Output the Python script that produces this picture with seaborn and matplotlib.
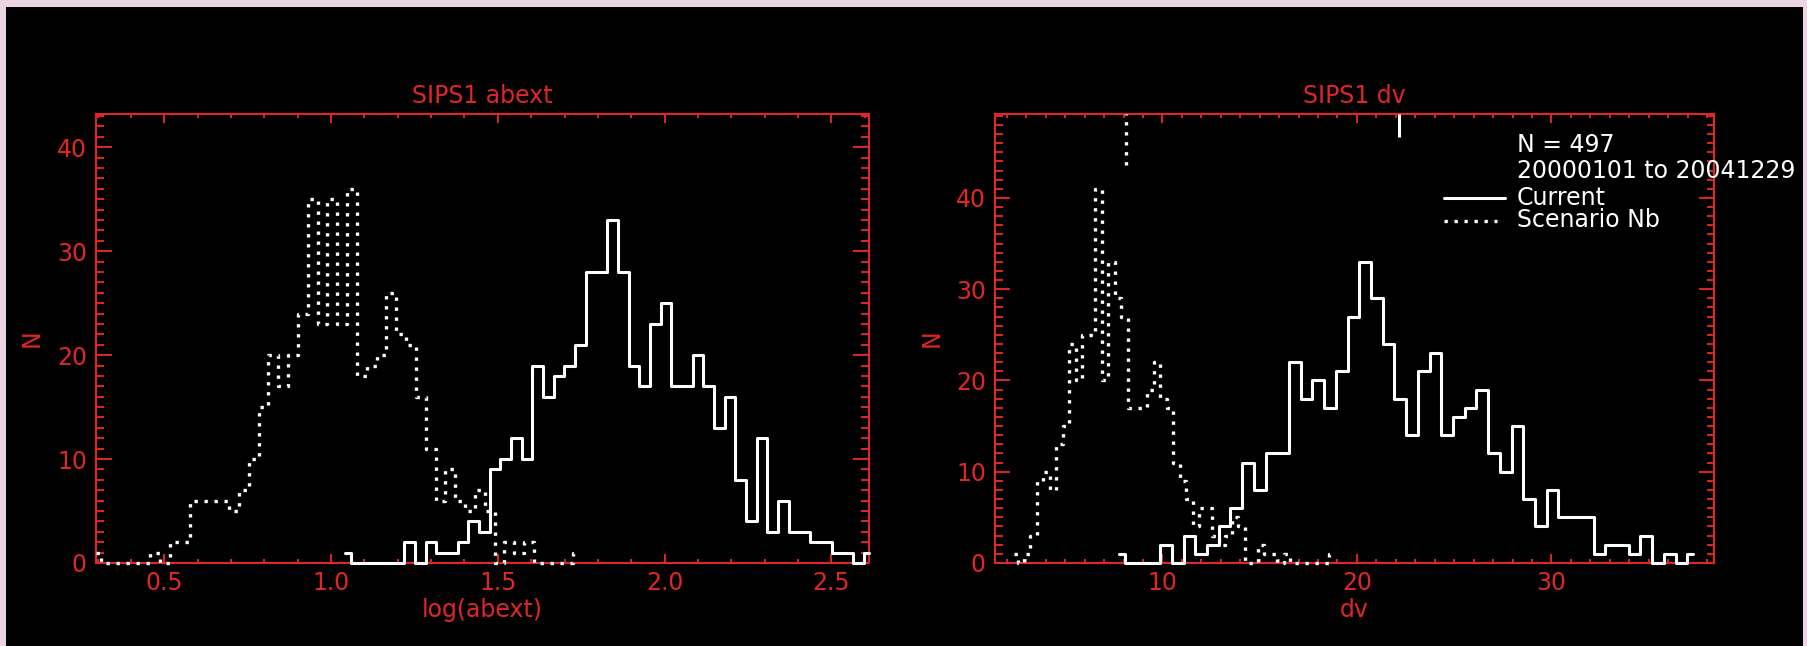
"""SIPS1 histograms (IDL look): log(abext) and dv, current vs scenario Nb."""
import matplotlib
matplotlib.use("Agg")
import matplotlib.pyplot as plt
import matplotlib.ticker as mticker
from matplotlib.patches import Rectangle
import numpy as np
import pandas as pd
import seaborn as sns

# ---- values (50 bins per histogram) ----
abext_current_span = (1.043, 2.613)      # first / last bin centre
abext_current = [1, 0, 0, 0, 0, 0, 2, 0, 2, 1,
                 1, 2, 4, 3, 9, 10, 12, 10, 19, 16,
                 18, 19, 21, 28, 28, 33, 28, 19, 17, 23,
                 25, 17, 17, 20, 17, 13, 16, 8, 4, 12,
                 3, 6, 3, 3, 2, 2, 1, 1, 0, 1]
abext_scenario_span = (0.296, 1.741)
abext_scenario = [1, 0, 0, 0, 0, 0, 1, 0, 2, 2,
                  6, 6, 6, 6, 5, 7, 10, 15, 20, 17,
                  20, 24, 35, 23, 35, 23, 36, 18, 19, 20,
                  26, 22, 21, 16, 11, 6, 9, 6, 5, 7,
                  5, 0, 2, 1, 2, 0, 0, 0, 0, 1]

dv_current_span = (7.77, 37.29)
dv_current = [1, 0, 0, 0, 2, 0, 3, 1, 2, 4,
              6, 11, 8, 12, 12, 22, 18, 20, 17, 21,
              27, 33, 29, 24, 18, 14, 21, 23, 14, 16,
              17, 19, 12, 10, 15, 7, 4, 8, 5, 5,
              5, 1, 2, 2, 1, 3, 0, 1, 0, 1]
dv_scenario_span = (2.38, 18.75)
dv_scenario = [1, 0, 1, 3, 9, 10, 8, 13, 15, 24,
               20, 25, 25, 41, 20, 33, 29, 27, 17, 17,
               17, 19, 22, 18, 17, 11, 9, 7, 4, 6,
               6, 3, 2, 3, 5, 4, 0, 0, 2, 1,
               1, 0, 1, 0, 0, 0, 0, 0, 0, 1]

# short markers at the top of the dv panel (current, scenario)
dv_marker_x = [22.16, 8.11]
dv_marker_from = [46.7, 43.6]

n_obs = 497
date_range = "20000101 to 20041229"

RED = "#e02626"
PINK = "#ecd5e2"
DOTS = (0, (1, 2.0))
W, H = 1808, 646

sns.set_theme(style="ticks", rc={"axes.facecolor": "black",
                                 "figure.facecolor": PINK})
plt.rcParams["font.family"] = ["DejaVu Sans"]


def hist_frame(span, counts):
    centres = np.linspace(span[0], span[1], len(counts))
    return pd.DataFrame({"x": centres, "n": counts})


def draw_panel(ax, cur, scen, xlim, ylim, xmajor, xminor, xfmt, ylen,
               title, xlabel):
    # histograms sit on top of the red frame, like the IDL output
    sns.lineplot(data=hist_frame(*cur), x="x", y="n", ax=ax, color="white",
                 lw=2.2, drawstyle="steps-mid", estimator=None,
                 zorder=3, clip_on=False)
    sns.lineplot(data=hist_frame(*scen), x="x", y="n", ax=ax, color="white",
                 lw=2.4, linestyle=DOTS, drawstyle="steps-mid",
                 estimator=None, zorder=3, clip_on=False)

    ax.set_facecolor("black")
    ax.set_xlim(*xlim)
    ax.set_ylim(*ylim)
    for s in ax.spines.values():
        s.set_visible(True)
        s.set_color(RED)
        s.set_linewidth(1.5)
    ax.xaxis.set_major_locator(mticker.MultipleLocator(xmajor))
    ax.xaxis.set_minor_locator(mticker.MultipleLocator(xminor))
    ax.xaxis.set_major_formatter(mticker.FormatStrFormatter(xfmt))
    ax.yaxis.set_major_locator(mticker.MultipleLocator(10))
    ax.yaxis.set_minor_locator(mticker.MultipleLocator(1))
    ax.tick_params(which="both", direction="in", top=True, right=True,
                   color=RED, labelcolor=RED, width=1.4, labelsize=17)
    ax.tick_params(axis="x", which="major", length=6.5, pad=6)
    ax.tick_params(axis="x", which="minor", length=3.2)
    ax.tick_params(axis="y", which="major", length=ylen, pad=6.5)
    ax.tick_params(axis="y", which="minor", length=ylen / 2)
    ax.grid(False)

    ax.set_title(title, color=RED, fontsize=17, pad=8)
    ax.set_xlabel(xlabel, color=RED, fontsize=17)
    ax.set_ylabel("N", color=RED, fontsize=17)
    ax.xaxis.set_label_coords(0.5, -0.078)


fig = plt.figure(figsize=(W / 100, H / 100), dpi=100, facecolor=PINK)
fig.add_artist(Rectangle((6 / W, 0), 1797 / W, 639 / H,
                         transform=fig.transFigure, facecolor="black",
                         edgecolor="none", zorder=-1))

ax1 = fig.add_axes([96 / W, 83 / H, 773 / W, 449 / H])
ax2 = fig.add_axes([995 / W, 83 / H, 719 / W, 449 / H])

draw_panel(ax1, (abext_current_span, abext_current),
           (abext_scenario_span, abext_scenario),
           (0.295, 2.613), (0, 43.2), 0.5, 0.1, "%.1f", 11.5,
           "SIPS1 abext", "log(abext)")
ax1.yaxis.set_label_coords(-0.068, 0.5)

draw_panel(ax2, (dv_current_span, dv_current),
           (dv_scenario_span, dv_scenario),
           (1.39, 38.36), (0, 49.2), 10, 1, "%d", 10.8,
           "SIPS1 dv", "dv")
ax2.yaxis.set_label_coords(-0.071, 0.5)

# markers at the top of the dv panel
top = ax2.get_ylim()[1]
ax2.vlines(dv_marker_x[0], dv_marker_from[0], top, colors="white", lw=2.2,
           zorder=3)
ax2.vlines(dv_marker_x[1], dv_marker_from[1], top, colors="white", lw=2.4,
           linestyles=[DOTS], zorder=3)

# legend block, IDL style
tr = ax2.transAxes
ax2.text(0.7256, 0.9154, f"N = {n_obs}", color="white", fontsize=17,
         transform=tr, va="baseline", zorder=4)
ax2.text(0.7256, 0.8575, date_range, color="white", fontsize=17,
         transform=tr, va="baseline", zorder=4)
ax2.text(0.7256, 0.7973, "Current", color="white", fontsize=17,
         transform=tr, va="baseline", zorder=4)
ax2.text(0.7256, 0.7483, "Scenario Nb", color="white", fontsize=17,
         transform=tr, va="baseline", zorder=4)
ax2.plot([0.6245, 0.7093], [0.8129, 0.8129], color="white", lw=2.2,
         transform=tr, clip_on=False)
ax2.plot([0.6245, 0.698], [0.7624, 0.7624], color="white", lw=2.4,
         linestyle=DOTS, transform=tr, clip_on=False)

plt.savefig("out.png", dpi=100, facecolor=PINK)
